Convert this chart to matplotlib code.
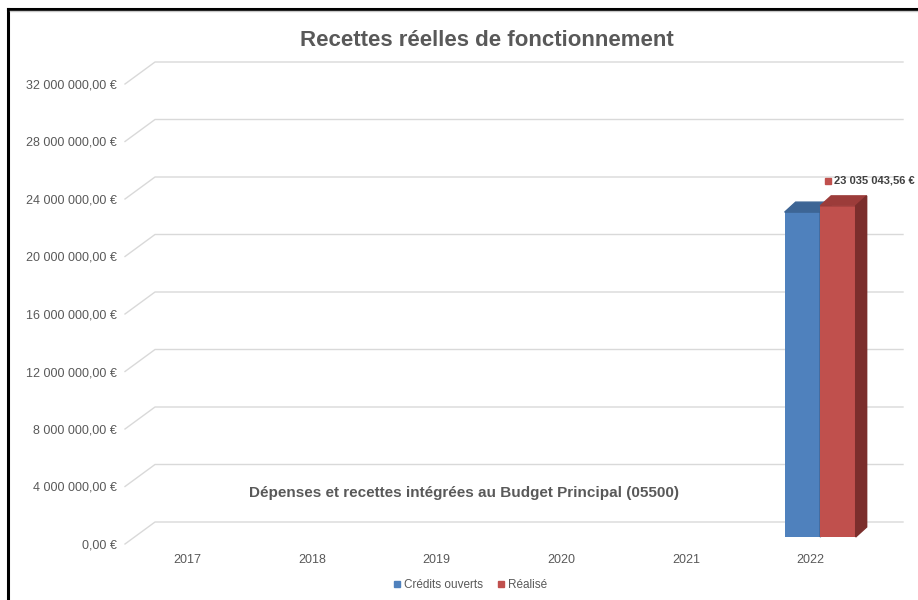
import numpy as np
import matplotlib
matplotlib.use("Agg")
import matplotlib.pyplot as plt
from matplotlib.patches import Polygon
from matplotlib.lines import Line2D

plt.rcParams['font.family'] = ['Liberation Sans', 'DejaVu Sans']

# data
years = ['2017', '2018', '2019', '2020', '2021', '2022']
credits_ouverts = [np.nan, np.nan, np.nan, np.nan, np.nan, 22600000.00]
realise = [np.nan, np.nan, np.nan, np.nan, np.nan, 23035043.56]
y_ticks = [0, 4e6, 8e6, 12e6, 16e6, 20e6, 24e6, 28e6, 32e6]

title = 'Recettes réelles de fonctionnement'
note = 'Dépenses et recettes intégrées au Budget Principal (05500)'

text_col = '#595959'
grid_col = '#d9d9d9'
blue = ('#4f81bd', '#3d6595', '#385d8a')   # front, top, side
red = ('#c0504d', '#9c3c3a', '#7b2e2c')


def fmt_eur(v):
    s = f"{v:,.2f}"
    s = s.replace(',', ' ').replace('.', ',')
    return s + ' €'


fig = plt.figure(figsize=(9.18, 6.0), dpi=100)
W, H = 918, 600
ax_l, ax_b, ax_w, ax_h = 125, 56, 748, 460
ax = fig.add_axes([ax_l / W, ax_b / H, ax_w / W, ax_h / H])
ax.set_xlim(-0.5, len(years) - 0.5)
ax.set_ylim(0, 32e6)

# pixel -> data units
px_x = len(years) / ax_w
px_y = 32e6 / ax_h

# back wall gridlines with the diagonal going to the front
gx, gy = 30 * px_x, 22 * px_y
for v in y_ticks:
    ax.plot([-0.5, -0.5 + gx, len(years) - 0.5 + gx], [v, v + gy, v + gy],
            color=grid_col, lw=1, clip_on=False, zorder=0)

# bars sit in the middle of the depth
mx, my = 9.5 * px_x, 7 * px_y
dx, dy = 11 * px_x, 10 * px_y
bw = 35.5 * px_x
xs = np.arange(len(years))


def bar3d(x0, val, cols):
    if np.isnan(val):
        return
    x1 = x0 + bw
    b = my
    t = my + val
    ax.bar(x0, val, width=bw, bottom=b, align='edge', color=cols[0],
           clip_on=False, zorder=3)
    ax.add_patch(Polygon([(x0, t), (x1, t), (x1 + dx, t + dy), (x0 + dx, t + dy)],
                         closed=True, color=cols[1], clip_on=False, zorder=3))
    ax.add_patch(Polygon([(x1, b), (x1 + dx, b + dy), (x1 + dx, t + dy), (x1, t)],
                         closed=True, color=cols[2], clip_on=False, zorder=3))


for i in range(len(years)):
    bar3d(xs[i] + mx - bw, credits_ouverts[i], blue)
    bar3d(xs[i] + mx, realise[i], red)

# data label for Realise
for i, v in enumerate(realise):
    if np.isnan(v):
        continue
    lx = xs[i] + mx + 8 * px_x
    ly = my + v + 25 * px_y
    ax.plot(lx, ly, marker='s', ms=4.5, color=red[0], clip_on=False, zorder=4)
    ax.text(lx + 6 * px_x, ly, fmt_eur(v), fontsize=8, fontweight='bold',
            color='#404040', va='center', ha='left', clip_on=False)

ax.set_yticks(y_ticks)
ax.set_yticklabels([fmt_eur(v) for v in y_ticks])
ax.set_xticks(xs)
ax.set_xticklabels(years)
ax.tick_params(axis='y', length=0, pad=6, labelsize=9, labelcolor=text_col)
ax.tick_params(axis='x', length=0, pad=7, labelsize=9, labelcolor=text_col)
for sp in ax.spines.values():
    sp.set_visible(False)
ax.set_facecolor('none')

fig.text(464 / W, 1 - 493 / H, note, fontsize=11, fontweight='bold',
         color=text_col, ha='center', va='center')

fig.text(487 / W, 1 - 40 / H, title, fontsize=16, fontweight='bold',
         color=text_col, ha='center', va='center')

handles = [Line2D([], [], ls='none', marker='s', ms=5, color=blue[0]),
           Line2D([], [], ls='none', marker='s', ms=5, color=red[0])]
leg = fig.legend(handles, ['Crédits ouverts', 'Réalisé'], loc='center',
                 bbox_to_anchor=(470 / W, 1 - 585 / H), ncol=2, frameon=False,
                 fontsize=8.5, handlelength=0.6, handletextpad=0.3,
                 columnspacing=1.2)
for t in leg.get_texts():
    t.set_color(text_col)

# outer frame (left and top edges)
fig.add_artist(Line2D([7.5 / W, 7.5 / W], [0, 1 - 8.5 / H], color='black', lw=2.2))
fig.add_artist(Line2D([7.5 / W, 1], [1 - 8.5 / H, 1 - 8.5 / H], color='black', lw=2.2))
fig.add_artist(Line2D([9.5 / W, 1], [1 - 10.5 / H, 1 - 10.5 / H], color='#c8c8c8', lw=1))

fig.savefig('out.png', dpi=100)
